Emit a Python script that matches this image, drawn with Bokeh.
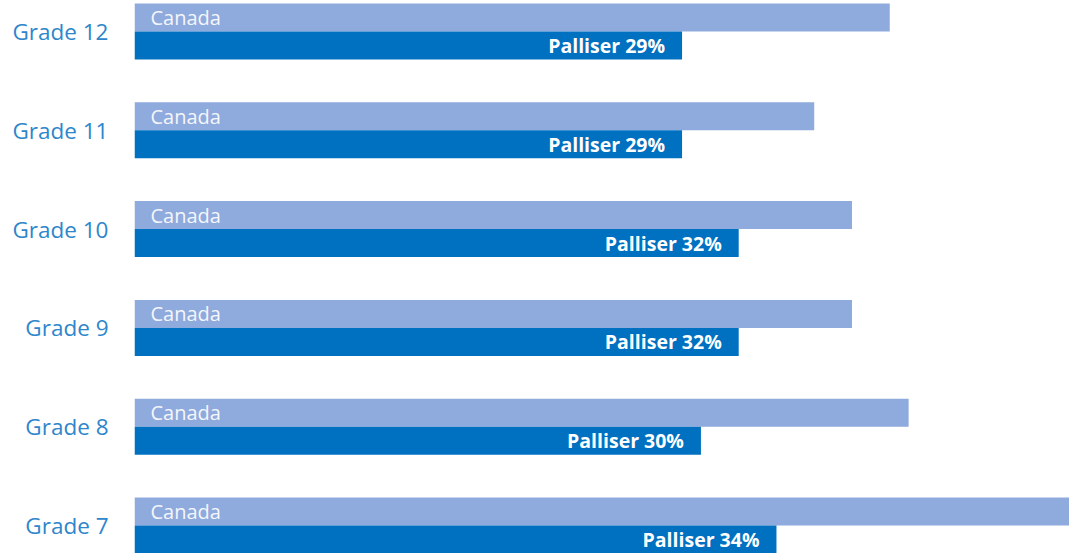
from bokeh.plotting import figure
from bokeh.models import ColumnDataSource, Range1d, FixedTicker
from bokeh.core.properties import value
from bokeh.embed import file_html
from bokeh.resources import INLINE

grades = ["Grade 12", "Grade 11", "Grade 10", "Grade 9", "Grade 8", "Grade 7"]
canada = [40, 36, 38, 38, 41, 50]
palliser = [29, 29, 32, 32, 30, 34]

n = len(grades)
ypos = [n - 1 - i for i in range(n)]
half = 0.1417

src = ColumnDataSource(dict(
    y=ypos,
    yc=[y + half for y in ypos],
    yp=[y - half for y in ypos],
    canada=canada,
    palliser=palliser,
    zero=[0] * n,
    clab=["Canada"] * n,
    plab=[f"Palliser {v}%" for v in palliser],
))

p = figure(width=1069, height=553, output_backend="svg", toolbar_location=None,
           x_range=Range1d(0, 49.52), y_range=Range1d(-0.2834, 5.3138),
           min_border_left=134, min_border_right=0, min_border_top=0, min_border_bottom=0)

p.hbar(y="yc", left="zero", right="canada", height=2 * half, source=src,
       fill_color="#8FAADC", line_color=None)
p.hbar(y="yp", left="zero", right="palliser", height=2 * half, source=src,
       fill_color="#0070C0", line_color=None)

p.text(x="zero", y="yc", text="clab", source=src, x_offset=16,
       text_font=value("Open Sans"), text_font_size="20px", text_color="#F4F6FB",
       text_align="left", text_baseline="middle")
p.text(x="palliser", y="yp", text="plab", source=src, x_offset=-17,
       text_font=value("Open Sans"), text_font_size="19.5px", text_font_style="bold",
       text_color="#FFFFFF", text_align="right", text_baseline="middle")

p.xaxis.visible = False
p.yaxis.ticker = FixedTicker(ticks=ypos)
p.yaxis.major_label_overrides = {y: g for y, g in zip(ypos, grades)}
p.yaxis.major_tick_in = 0
p.yaxis.major_tick_out = 0
p.yaxis.minor_tick_in = 0
p.yaxis.minor_tick_out = 0
p.yaxis.axis_line_color = None
p.yaxis.major_label_standoff = 26
p.yaxis.major_label_text_font = "Open Sans"
p.yaxis.major_label_text_font_size = "22.5px"
p.yaxis.major_label_text_color = "#2E86CB"

p.xgrid.visible = False
p.ygrid.visible = False
p.outline_line_color = None
p.background_fill_color = "white"
p.border_fill_color = "white"

open("out.html", "w").write(file_html(p, INLINE))
